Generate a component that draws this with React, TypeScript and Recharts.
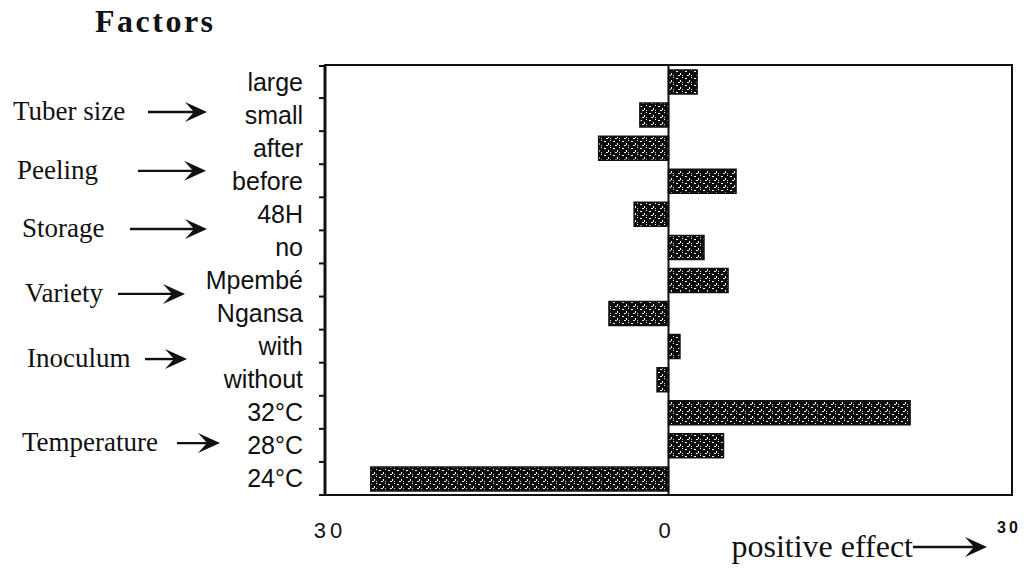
import React from 'react';
import { BarChart, Bar, XAxis, YAxis, ReferenceLine, ReferenceArea } from 'recharts';

// ---- data ----
const categories = ['large', 'small', 'after', 'before', '48H', 'no', 'Mpembé', 'Ngansa', 'with', 'without', '32°C', '28°C', '24°C'];
const effects = [2.5, -2.5, -6.1, 5.9, -3.0, 3.1, 5.2, -5.2, 1.0, -1.0, 21.1, 4.8, -26.0];
const groupNames = ['Tuber size', 'Peeling', 'Storage', 'Variety', 'Inoculum', 'Temperature'];
const groupAnchors = ['small', 'before', 'no', 'Ngansa', 'without', '28°C'];
const xTickValues = [-30, 0, 30];
const xTickLabels = ['30', '0', '30'];
const title = 'Factors';
const xTitle = 'positive effect';

const data = categories.map((c, i) => ({ cat: c, effect: effects[i] }));

// ---- layout ----
const W = 1030;
const H = 571;
const X_AXIS_H = 60;
const M = { top: 65, right: 18, bottom: 16, left: 300 };
const Y_AXIS_W = 25;
const BAND = (H - M.top - M.bottom - X_AXIS_H) / categories.length;
const INK = '#111';
const SANS = '"Liberation Sans", Arial, Helvetica, sans-serif';
const SERIF = '"Liberation Serif", "Times New Roman", serif';

// group label placement: text left x, arrow start / end x, vertical shift in bands
const groupLayout = [
  { tx: 13, a0: 148, a1: 207, dy: -0.11 },
  { tx: 17, a0: 138, a1: 206, dy: -0.33 },
  { tx: 22, a0: 130, a1: 207, dy: -0.57 },
  { tx: 25, a0: 118, a1: 185, dy: -0.61 },
  { tx: 27, a0: 145, a1: 187, dy: -0.64 },
  { tx: 22, a0: 177, a1: 220, dy: -0.1 },
];

const Arrow = ({ x0, x1, y }: { x0: number; x1: number; y: number }) => (
  <g>
    <line x1={x0} y1={y} x2={x1 - 10} y2={y} stroke={INK} strokeWidth={2.4} />
    <path d={`M${x1 - 22},${y - 10} L${x1},${y} L${x1 - 22},${y + 10} L${x1 - 13},${y} Z`} fill={INK} />
  </g>
);

const YTick = (props: any) => {
  const { x, y, payload } = props;
  const cat = payload.value as string;
  const gi = groupAnchors.indexOf(cat);
  const isFirst = cat === categories[0];
  return (
    <g>
      <text x={x - 22} y={y} dy={9} textAnchor="end" fontFamily={SANS} fontSize={25} fill={INK}>
        {cat}
      </text>
      <line x1={x - 6} x2={x} y1={y + BAND / 2} y2={y + BAND / 2} stroke={INK} strokeWidth={2} />
      {isFirst && (
        <line x1={x - 6} x2={x} y1={y - BAND / 2 + 1} y2={y - BAND / 2 + 1} stroke={INK} strokeWidth={2} />
      )}
      {gi >= 0 && (
        <g>
          <text
            x={groupLayout[gi].tx}
            y={y + groupLayout[gi].dy * BAND + 9}
            fontFamily={SERIF}
            fontSize={27}
            fill={INK}
          >
            {groupNames[gi]}
          </text>
          <Arrow x0={groupLayout[gi].a0} x1={groupLayout[gi].a1} y={y + groupLayout[gi].dy * BAND + 1} />
        </g>
      )}
      {isFirst && (
        <text x={95} y={32} fontFamily={SERIF} fontWeight="bold" fontSize={32} letterSpacing={2.5} fill={INK}>
          {title}
        </text>
      )}
    </g>
  );
};

const XTick = (props: any) => {
  const { x, y, payload } = props;
  const v = payload.value as number;
  const label = xTickLabels[xTickValues.indexOf(v)];
  if (v < 0) {
    return (
      <text x={x + 5} y={y + 43} textAnchor="middle" fontFamily={SANS} fontSize={22} letterSpacing={4} fill={INK}>
        {label}
      </text>
    );
  }
  if (v === 0) {
    return (
      <text x={x - 4} y={y + 43} textAnchor="middle" fontFamily={SANS} fontSize={22} fill={INK}>
        {label}
      </text>
    );
  }
  return (
    <g>
      <text x={x - 3} y={y + 38} textAnchor="middle" fontFamily={SANS} fontSize={16} fontWeight="bold" letterSpacing={3} fill={INK}>
        {label}
      </text>
      <text x={x - 99} y={y + 62} textAnchor="end" fontFamily={SERIF} fontSize={32} fill={INK}>
        {xTitle}
      </text>
      <Arrow x0={x - 99} x1={x - 25} y={y + 52} />
    </g>
  );
};

export default function App() {
  return (
    <div style={{ position: 'absolute', left: 0, top: 0, width: W, height: H, background: '#fff' }}>
      <BarChart width={W} height={H} data={data} layout="vertical" margin={M}>
        <defs>
          <pattern id="speckle" width="9" height="7" patternUnits="userSpaceOnUse">
            <rect width="9" height="7" fill="#0c0c0c" />
            <rect x="1" y="1" width="2" height="1" fill="#fff" />
            <rect x="5" y="3" width="1" height="2" fill="#fff" />
            <rect x="3" y="5" width="2" height="1" fill="#eee" />
            <rect x="7" y="0" width="1" height="1" fill="#fff" />
            <rect x="7" y="5" width="1" height="1" fill="#ddd" />
          </pattern>
        </defs>
        <XAxis
          type="number"
          domain={[-30, 30]}
          ticks={xTickValues}
          axisLine={{ stroke: INK, strokeWidth: 2 }}
          tickLine={false}
          tickSize={0}
          tickMargin={0}
          height={X_AXIS_H}
          tick={<XTick />}
          interval={0}
        />
        <YAxis
          type="category"
          dataKey="cat"
          width={Y_AXIS_W}
          axisLine={{ stroke: INK, strokeWidth: 3 }}
          tickLine={false}
          tickSize={0}
          tickMargin={0}
          interval={0}
          tick={<YTick />}
        />
        <ReferenceArea x1={-30} x2={30} fill="none" stroke={INK} strokeWidth={2} fillOpacity={0} ifOverflow="visible" />
        <Bar dataKey="effect" fill="url(#speckle)" stroke={INK} strokeWidth={1.5} barSize={24} isAnimationActive={false} />
        <ReferenceLine x={0} stroke={INK} strokeWidth={2} />
      </BarChart>
    </div>
  );
}
